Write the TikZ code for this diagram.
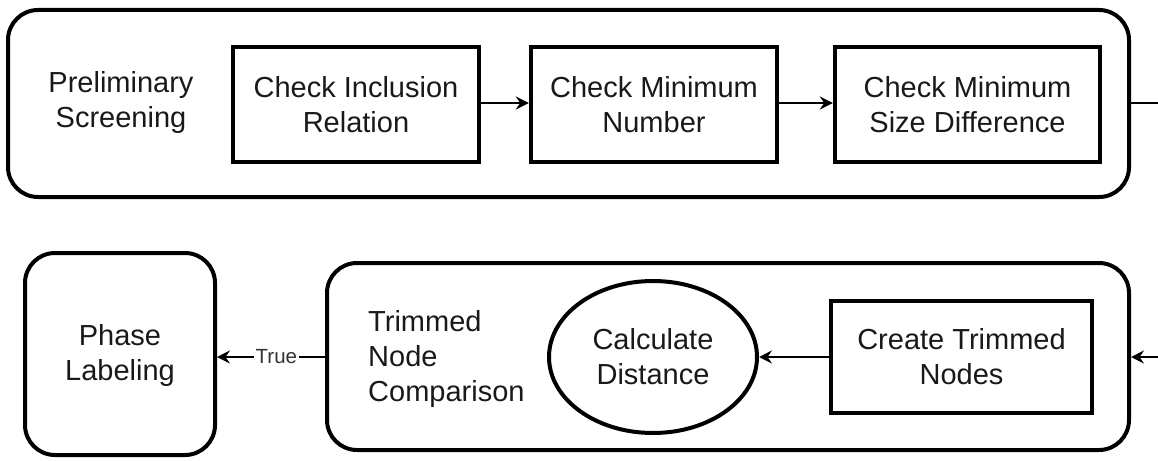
\documentclass[tikz,border=0pt]{standalone}
\usepackage{fontspec}
\setmainfont{Liberation Sans}
\usetikzlibrary{arrows.meta,shapes.geometric}
\begin{document}
\begin{tikzpicture}[x=1pt,y=-1pt,
  every node/.style={font=\fontsize{29}{35}\selectfont, text=black!90},
  group/.style={draw, line width=4pt, rounded corners=30pt, inner sep=0pt},
  stepbox/.style={draw, line width=4.5pt, align=center, inner sep=0pt},
  oval/.style={draw, ellipse, line width=4pt, align=center, inner sep=0pt},
  lbl/.style={align=center, inner sep=0pt},
  conn/.style={line width=1.5pt},
  arr/.style={conn, -{Stealth[length=13pt,width=13pt,inset=4.5pt]}},
  edgelbl/.style={fill=white, inner sep=1.5pt, font=\fontsize{20.5}{24}\selectfont, text=black!80}]
\useasboundingbox (0,0) rectangle (1158,460);

% top group
\node[group, minimum width=1121pt, minimum height=187pt] (top) at (568.5,103.5) {};
\node[lbl] (prelim) at (121,103) {Preliminary\\Screening};
\node[stepbox, minimum width=246pt, minimum height=115pt] (incl) at (356,104.5) {Check Inclusion\\Relation};
\node[stepbox, minimum width=246pt, minimum height=115pt] (minnum) at (654,104.5) {Check Minimum\\Number};
\node[stepbox, minimum width=265pt, minimum height=115pt] (minsize) at (967.5,104.5) {Check Minimum\\Size Difference};

% bottom group
\node[group, minimum width=802pt, minimum height=187pt] (bot) at (728,356.5) {};
\node[lbl, anchor=west, align=left] (trim) at (368,359) {Trimmed\\Node\\Comparison};
\node[oval, minimum width=208pt, minimum height=152pt] (calc) at (653,357) {Calculate\\Distance};
\node[stepbox, minimum width=261pt, minimum height=112pt] (create) at (961.5,357) {Create Trimmed\\Nodes};

% phase labeling
\node[group, minimum width=190pt, minimum height=202pt] (phase) at (120,354) {};
\node[lbl] (phasetxt) at (120,355) {Phase\\Labeling};

% free ends
\coordinate (outR) at (1158,103);
\coordinate (inR) at (1158,357);

% connectors
\draw[arr] (incl.east |- 0,103) -- (minnum.west |- 0,103);
\draw[arr] (minnum.east |- 0,103) -- (minsize.west |- 0,103);
\draw[conn] (top.east |- outR) -- (outR);
\draw[arr] (inR) -- (bot.east |- inR);
\draw[arr] (create.west) -- (calc.east);
\draw[arr] (bot.west |- 0,357) -- node[edgelbl, pos=0.45] {True} (phase.east |- 0,357);
\end{tikzpicture}
\end{document}
